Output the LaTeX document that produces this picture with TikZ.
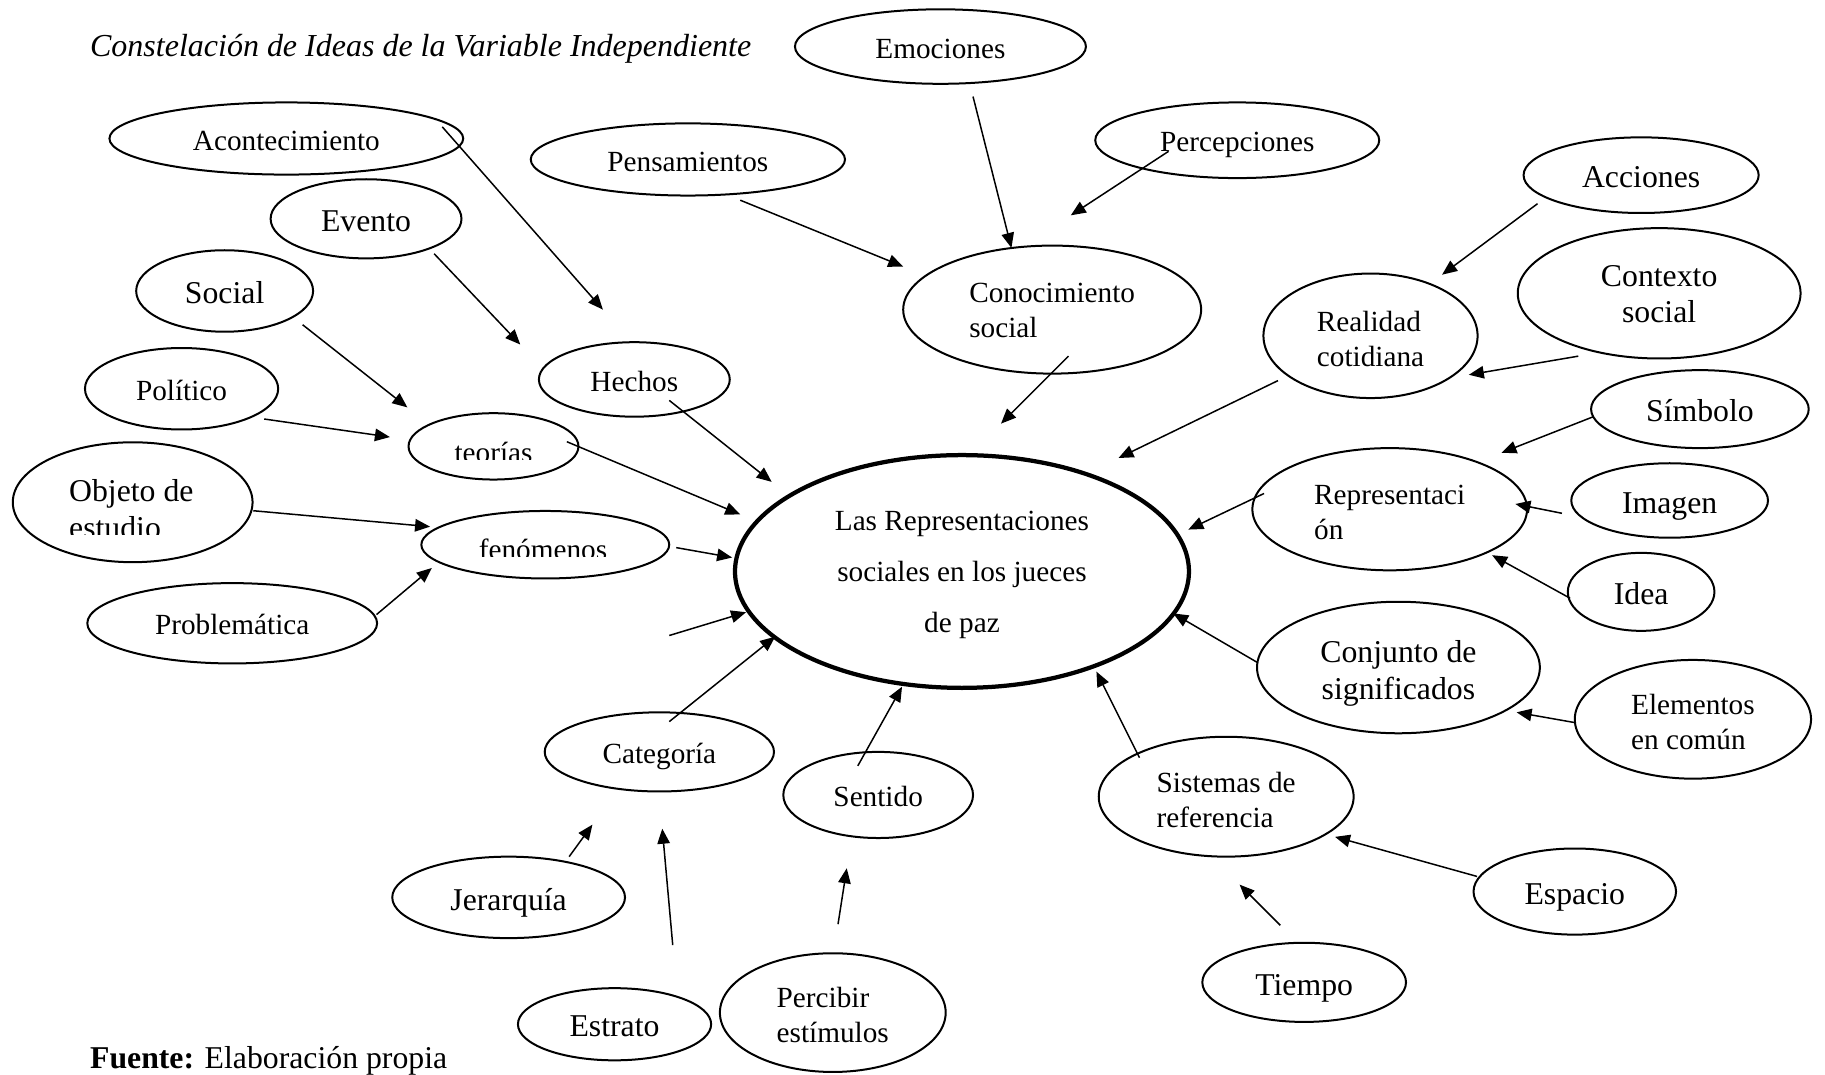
\documentclass[tikz,border=0pt]{standalone}
\usepackage{fontspec}
\setmainfont{Liberation Serif}
\usetikzlibrary{shapes.geometric,arrows.meta}

\newcommand\chica{\fontsize{11.7pt}{14pt}\selectfont}
\newcommand\grande{\fontsize{12.7pt}{14.6pt}\selectfont}
\newcommand\centro{\fontsize{11.7pt}{20.5pt}\selectfont}
% alto de la primera linea y hondo de la ultima
\newcommand\alto[1][1.08em]{\rule{0pt}{#1}}
\newcommand\bajo{\rule[-0.2em]{0pt}{0.2em}}

\tikzset{
  burbuja/.style={ellipse, draw, line width=0.8pt, inner sep=0pt, align=center, font=\chica},
  mayor/.style={font=\grande},
  una linea/.style={text height=11.7pt, text depth=2.34pt},
  una linea grande/.style={font=\grande, text height=12.7pt, text depth=2.54pt},
  tam/.style 2 args={minimum width=#1*0.9312pt, minimum height=#2*0.9312pt},
  flecha/.style={-{Triangle[length=6pt,width=5pt]}, line width=0.6pt},
}

\begin{document}
\begin{tikzpicture}[x=0.4656pt, y=-0.4656pt]
  \useasboundingbox (0,0) rectangle (1568,923);

  \node [anchor=base west, inner sep=0pt, font=\fontsize{12.8pt}{15pt}\selectfont\itshape] (titulo) at (77,48.5)
    {Constelación de Ideas de la Variable Independiente};
  \node [anchor=base west, inner sep=0pt, font=\grande] (fuente) at (77,918)
    {\textbf{Fuente:} Elaboración propia};

  % centro
  \node [burbuja, line width=1.7pt, font=\centro, tam={195}{100}] (central) at (826.5,491)
    {\alto[0.9em]Las Representaciones\\sociales en los jueces\\de paz\bajo};

  % arriba
  \node [burbuja, una linea, tam={125}{32}] (emociones) at (808,40) {Emociones};
  \node [burbuja, una linea, tam={152}{31}] (acont) at (246,119) {Acontecimiento};
  \node [burbuja, una linea, tam={135}{31}] (pensam) at (591,137) {Pensamientos};
  \node [burbuja, una linea, tam={122}{32.5}] (percep) at (1063,120.5) {Percepciones};
  \node [burbuja, una linea grande, tam={101}{32.5}] (acciones) at (1410,150.5) {Acciones};
  \node [burbuja, una linea grande, tam={82}{34}] (evento) at (314.5,188) {Evento};
  \node [burbuja, una linea grande, tam={76}{35}] (social) at (193,250) {Social};
  \node [burbuja, align=left, tam={128}{55}] (conoc) at (904,266) {\alto[0.9em]Conocimiento\\social\bajo};
  \node [burbuja, align=left, tam={92}{53.5}] (realidad) at (1177.5,288.5) {\alto Realidad\\cotidiana\bajo};
  \node [burbuja, mayor, tam={121.5}{56}] (contexto) at (1425.5,252) {\alto[0.9em]Contexto\\social\bajo};
  \node [burbuja, una linea, tam={83}{35}] (politico) at (156,334) {Político};
  \node [burbuja, una linea, tam={82}{32}] (hechos) at (545,326) {Hechos};

  % izquierda
  \node [burbuja, tam={73}{28.5}] (teorias) at (424,383.5) {};
  \node [burbuja, tam={103}{51.5}] (objeto) at (114,431.5) {};
  \node [burbuja, tam={106.5}{29}] (fenom) at (468.5,468) {};
  \node [burbuja, una linea, tam={124.5}{34.5}] (problem) at (199.5,535.5) {Problemática};
  \begin{scope}
    \clip (380,370) rectangle (470,395);
    \node [font=\chica, inner sep=0pt, anchor=base] (teorias-txt) at (424,397.5) {teorías};
  \end{scope}
  \begin{scope}
    \clip (400,450) rectangle (540,478.5);
    \node [font=\chica, inner sep=0pt, anchor=base] (fenom-txt) at (466.5,481) {fenómenos};
  \end{scope}
  \begin{scope}
    \clip (40,400) rectangle (190,458.8);
    \node [font=\grande, align=left, inner sep=0pt, anchor=west] (objeto-txt) at (59,437.5)
      {Objeto de\\estudio};
  \end{scope}

  % derecha
  \node [burbuja, una linea grande, tam={93.5}{33.5}] (simbolo) at (1460.5,351.5) {Símbolo};
  \node [burbuja, align=left, tam={118}{52.5}] (repr) at (1194,437.5) {\alto Representaci\\ón\bajo};
  \node [burbuja, una linea grande, tam={84.5}{32}] (imagen) at (1434.5,430) {Imagen};
  \node [burbuja, una linea grande, tam={63}{33.5}] (idea) at (1410,508.5) {Idea};
  \node [burbuja, mayor, tam={121.5}{56.5}] (conjunto) at (1201.5,573.5) {\alto Conjunto de\\significados\bajo};
  \node [burbuja, align=left, tam={101.5}{51}] (elementos) at (1454.5,618) {\alto Elementos\\en común\bajo};

  % abajo
  \node [burbuja, una linea, tam={98.5}{34}] (categoria) at (566.5,646) {Categoría};
  \node [burbuja, una linea, tam={81.5}{37}] (sentido) at (754.5,683) {Sentido};
  \node [burbuja, align=left, tam={109.5}{51.5}] (sistemas) at (1053.5,684.5) {\alto Sistemas de\\referencia\bajo};
  \node [burbuja, una linea grande, tam={87}{37}] (espacio) at (1353,766) {Espacio};
  \node [burbuja, una linea grande, tam={100}{35}] (jerarquia) at (437,771) {Jerarquía};
  \node [burbuja, una linea grande, tam={87.5}{34}] (tiempo) at (1120.5,844) {Tiempo};
  \node [burbuja, una linea grande, tam={83}{31}] (estrato) at (528,880) {Estrato};
  \node [burbuja, align=left, tam={97}{51}] (percibir) at (715.5,870) {\alto Percibir\\estímulos\bajo};

  % extremos de las flechas (o = origen, d = destino)
  \coordinate (acont-o) at (380,109);      \coordinate (acont-d) at (518,266);
  \coordinate (evento-o) at (373,218);     \coordinate (evento-d) at (447,296);
  \coordinate (social-o) at (260,279);     \coordinate (social-d) at (350,350);
  \coordinate (politico-o) at (227,360);   \coordinate (politico-d) at (335,375.5);
  \coordinate (teorias-o) at (487,379.5);  \coordinate (teorias-d) at (636,442);
  \coordinate (hechos-o) at (575,344);     \coordinate (hechos-d) at (663,414);
  \coordinate (objeto-o) at (217.6,438.8); \coordinate (objeto-d) at (369.5,452.5);
  \coordinate (problem-o) at (323.5,528);  \coordinate (problem-d) at (371,488);
  \coordinate (fenom-o) at (581,470.5);    \coordinate (fenom-d) at (629,479);
  \coordinate (libre-o) at (575,546);      \coordinate (libre-d) at (641,526);
  \coordinate (categoria-o) at (575,620);  \coordinate (categoria-d) at (666,547);
  \coordinate (sentido-o) at (737,658);    \coordinate (sentido-d) at (775,590);
  \coordinate (jerarquia-o) at (489,736);  \coordinate (jerarquia-d) at (509,708.5);
  \coordinate (estrato-o) at (578,812);    \coordinate (estrato-d) at (569,712);
  \coordinate (percibir-o) at (720,794);   \coordinate (percibir-d) at (727.5,746);
  \coordinate (emociones-o) at (836,83);   \coordinate (emociones-d) at (869,213);
  \coordinate (percep-o) at (1004,130);    \coordinate (percep-d) at (920,185);
  \coordinate (pensam-o) at (636,172);     \coordinate (pensam-d) at (776,229);
  \coordinate (conoc-o) at (918,306);      \coordinate (conoc-d) at (860,364);
  \coordinate (realidad-o) at (1098,327);  \coordinate (realidad-d) at (961,393.5);
  \coordinate (acciones-o) at (1321,175);  \coordinate (acciones-d) at (1239,236);
  \coordinate (contexto-o) at (1356,306);  \coordinate (contexto-d) at (1262,322);
  \coordinate (simbolo-o) at (1369,358);   \coordinate (simbolo-d) at (1290,389);
  \coordinate (repr-o) at (1086,424);      \coordinate (repr-d) at (1021,455);
  \coordinate (imagen-o) at (1342,441);    \coordinate (imagen-d) at (1302,433);
  \coordinate (idea-o) at (1349,514);      \coordinate (idea-d) at (1282,477);
  \coordinate (conjunto-o) at (1080,569);  \coordinate (conjunto-d) at (1008,527);
  \coordinate (elementos-o) at (1354,621); \coordinate (elementos-d) at (1303,612);
  \coordinate (sistemas-o) at (979,651);   \coordinate (sistemas-d) at (942,577);
  \coordinate (espacio-o) at (1269,753);   \coordinate (espacio-d) at (1147,719);
  \coordinate (tiempo-o) at (1100,795);    \coordinate (tiempo-d) at (1065,760);

  \foreach \n in {acont, evento, social, politico, teorias, hechos, objeto, problem,
      fenom, libre, categoria, sentido, jerarquia, estrato, percibir, emociones,
      percep, pensam, conoc, realidad, acciones, contexto, simbolo, repr, imagen,
      idea, conjunto, elementos, sistemas, espacio, tiempo} {
    \draw [flecha] (\n-o) -- (\n-d);
  }
\end{tikzpicture}
\end{document}
